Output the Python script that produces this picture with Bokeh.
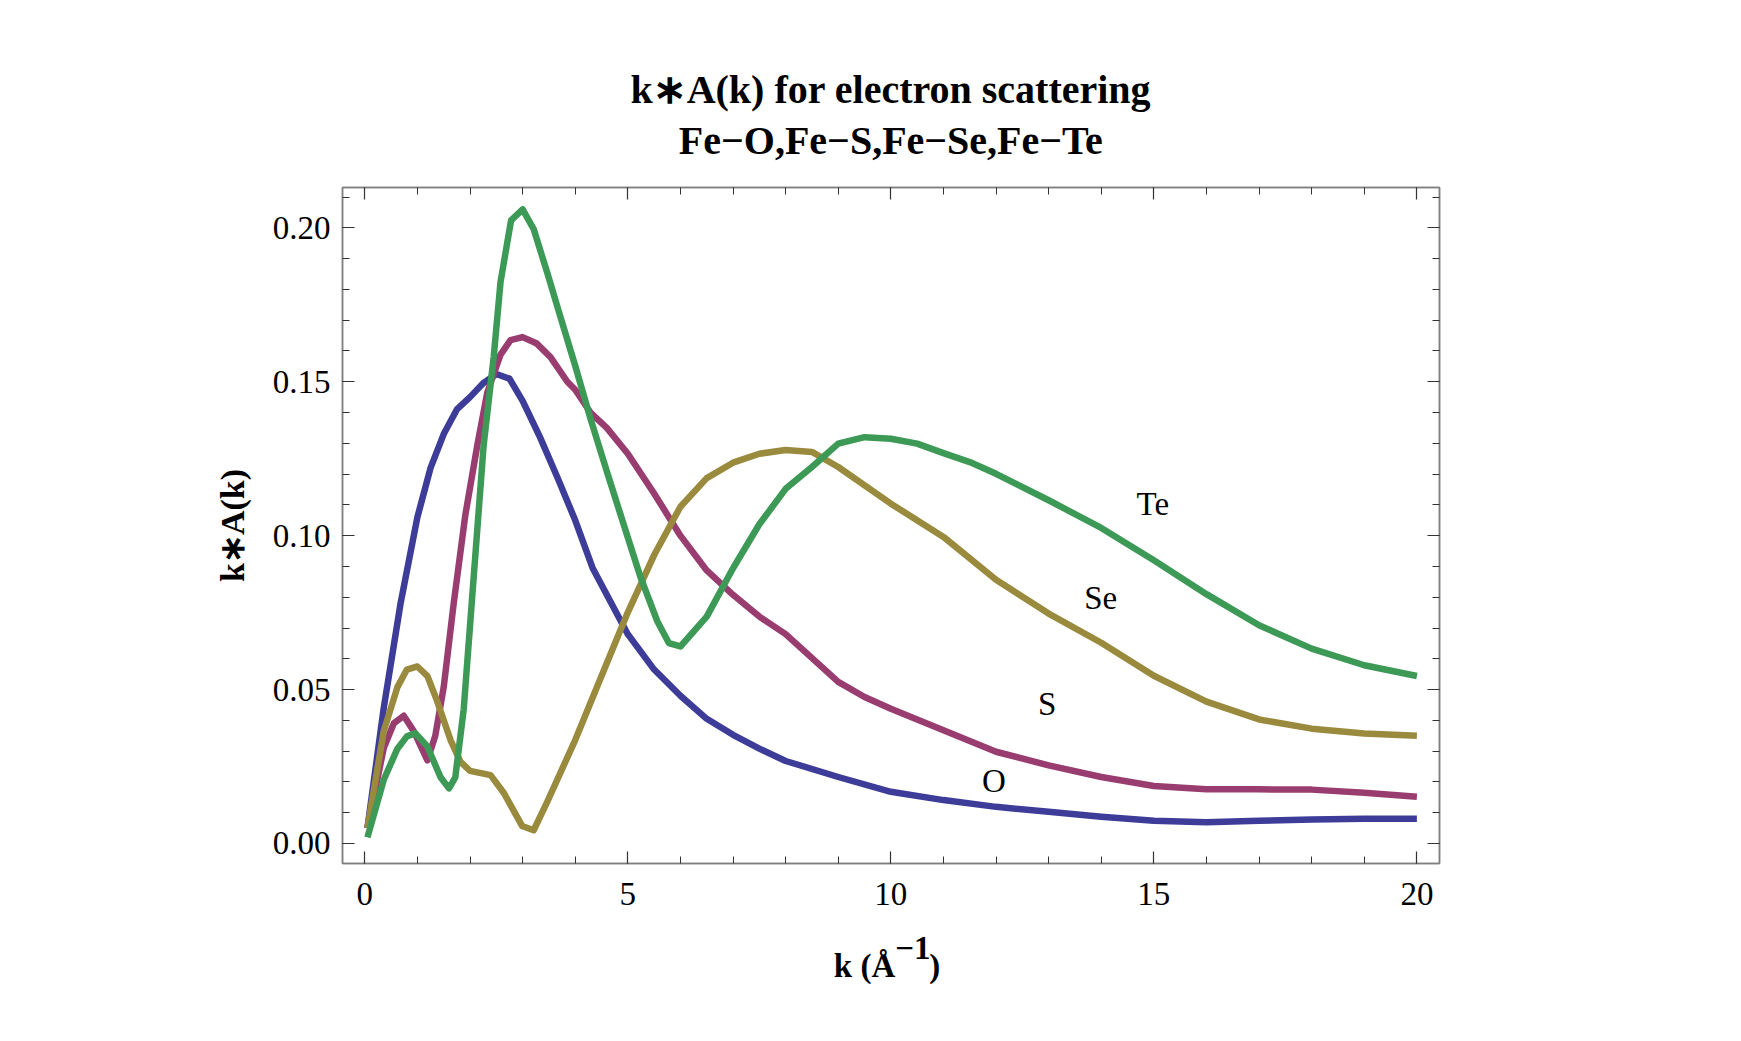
import math
from bokeh.plotting import figure
from bokeh.layouts import column
from bokeh.models import (Range1d, LinearAxis, SingleIntervalTicker, Label, Title,
                          PrintfTickFormatter, CustomJSTickFormatter)
from bokeh.core.properties import value
from bokeh.embed import file_html
from bokeh.resources import INLINE

# ---------------- data ----------------
k_O = [0.05, 0.36, 0.68, 1.0, 1.25, 1.5, 1.75, 2.0, 2.25, 2.5, 2.75, 3.0, 3.33,
       3.66, 4.0, 4.33, 5.0, 5.5, 6.0, 6.5, 7.0, 7.5, 8.0, 9.0, 10.0, 11.0,
       12.0, 13.0, 14.0, 15.0, 16.0, 17.0, 18.0, 19.0, 20.0]
A_O = [0.005, 0.044, 0.078, 0.106, 0.122, 0.133, 0.141, 0.145, 0.1495, 0.1525,
       0.151, 0.1438, 0.132, 0.119, 0.105, 0.0895, 0.068, 0.0565, 0.048, 0.0405,
       0.0353, 0.0308, 0.0268, 0.0216, 0.0168, 0.0141, 0.0119, 0.0103, 0.0087,
       0.0074, 0.0069, 0.0074, 0.0078, 0.008, 0.008]

k_S = [0.05, 0.36, 0.55, 0.74, 0.93, 1.19, 1.34, 1.5, 1.69, 1.91, 2.14, 2.33,
       2.58, 2.77, 3.0, 3.27, 3.53, 3.85, 4.0, 4.29, 4.6, 5.0, 5.5, 6.0, 6.5,
       7.0, 7.5, 8.0, 9.0, 9.5, 10.0, 11.0, 12.0, 13.0, 14.0, 15.0, 16.0, 17.0,
       18.0, 19.0, 20.0]
A_S = [0.005, 0.031, 0.039, 0.0415, 0.0365, 0.027, 0.035, 0.0508, 0.078, 0.1066,
       0.1295, 0.1466, 0.1588, 0.1635, 0.1645, 0.1624, 0.158, 0.150, 0.1474,
       0.140, 0.135, 0.1266, 0.1137, 0.100, 0.0887, 0.0808, 0.0737, 0.068,
       0.0525, 0.0476, 0.0438, 0.0368, 0.0298, 0.0254, 0.0216, 0.0187, 0.0176,
       0.0176, 0.0175, 0.0165, 0.0152]

k_Se = [0.05, 0.36, 0.62, 0.8, 1.0, 1.19, 1.37, 1.63, 1.82, 2.0, 2.39, 2.64,
        2.99, 3.21, 3.47, 4.0, 4.48, 5.0, 5.5, 6.0, 6.5, 7.0, 7.5, 8.0, 8.5,
        9.0, 10.0, 11.0, 12.0, 13.0, 14.0, 15.0, 16.0, 17.0, 18.0, 19.0, 20.0]
A_Se = [0.005, 0.0365, 0.0508, 0.0565, 0.0575, 0.0544, 0.0465, 0.0336, 0.0265,
        0.0236, 0.0222, 0.0165, 0.0057, 0.0043, 0.0136, 0.0336, 0.0536, 0.0751,
        0.0937, 0.1094, 0.1187, 0.1237, 0.1266, 0.1278, 0.1272, 0.1223, 0.1104,
        0.0996, 0.0857, 0.0747, 0.0652, 0.0545, 0.0461, 0.0403, 0.0373, 0.0357,
        0.035]

k_Te = [0.05, 0.36, 0.62, 0.8, 0.96, 1.19, 1.44, 1.6, 1.72, 1.88, 2.07, 2.26,
        2.45, 2.58, 2.78, 3.0, 3.21, 3.47, 3.72, 4.0, 4.29, 4.6, 5.0, 5.24,
        5.56, 5.78, 6.0, 6.5, 7.0, 7.5, 8.0, 8.5, 9.0, 9.5, 10.0, 10.5, 11.0,
        11.5, 12.0, 13.0, 14.0, 15.0, 16.0, 17.0, 18.0, 19.0, 20.0]
A_Te = [0.002, 0.0207, 0.0308, 0.0348, 0.0358, 0.0315, 0.0215, 0.0179, 0.0215,
        0.0436, 0.0866, 0.1295, 0.158, 0.1824, 0.2024, 0.206, 0.1996, 0.1853,
        0.171, 0.1552, 0.138, 0.1209, 0.0994, 0.0866, 0.0722, 0.0651, 0.064,
        0.0737, 0.0894, 0.1037, 0.1152, 0.1223, 0.1299, 0.132, 0.1315, 0.1299,
        0.1268, 0.1239, 0.1201, 0.1115, 0.1025, 0.092, 0.081, 0.0709, 0.0633,
        0.0579, 0.0544]

series_names = ["O", "S", "Se", "Te"]
label_pos_k = [11.96, 12.97, 13.99, 14.98]
label_pos_A = [0.0204, 0.0453, 0.0799, 0.1102]

title_lines = ["k\u2217A(k) for electron scattering", "Fe\u2212O,Fe\u2212S,Fe\u2212Se,Fe\u2212Te"]
y_label = "k\u2217A(k)"
x_label_parts = ["k (\u00c5", "\u22121", ")"]

colors = ["#3d3d99", "#993d71", "#998a3d", "#3d9956"]
SERIF = "Liberation Serif"

# ---------------- geometry of the page (pixels) ----------------
W = 1736
H0, H1, H2 = 173, 757, 106          # title strip, plot, x-label strip
FL, FR = 342, 1439                  # frame left / right
TOP_B, BOT_B = 14, 67               # borders of the main plot

x_rng = Range1d(-0.424, 20.43)

# ---------------- main figure ----------------
p = figure(width=W, height=H1, output_backend="svg", toolbar_location=None,
           x_range=x_rng, y_range=Range1d(-0.0065, 0.2131),
           x_axis_type=None, y_axis_type=None,
           min_border_left=FL, min_border_right=W - FR,
           min_border_top=TOP_B, min_border_bottom=BOT_B)
p.grid.visible = False
p.outline_line_color = "#7f7f7f"
p.outline_line_width = 1.5
p.background_fill_color = "white"
p.border_fill_color = "white"


def style_axis(ax, show_labels, standoff=12):
    ax.axis_line_color = "#7f7f7f"
    ax.axis_line_width = 1.5
    ax.major_tick_line_color = "#333333"
    ax.minor_tick_line_color = "#333333"
    ax.major_tick_line_width = 1.2
    ax.minor_tick_line_width = 1.0
    ax.major_tick_in = 12
    ax.major_tick_out = 0
    ax.minor_tick_in = 7
    ax.minor_tick_out = 0
    ax.major_label_text_font = SERIF
    ax.major_label_text_color = "black"
    if show_labels:
        ax.major_label_text_font_size = "33px"
        ax.major_label_standoff = standoff
    else:
        ax.formatter = CustomJSTickFormatter(code="return ''")
        ax.major_label_text_font_size = "1px"
        ax.major_label_standoff = 0


for loc, show in [("below", True), ("above", False)]:
    ax = LinearAxis(ticker=SingleIntervalTicker(interval=5, num_minor_ticks=5))
    style_axis(ax, show, standoff=19)
    p.add_layout(ax, loc)

for loc, show in [("left", True), ("right", False)]:
    ax = LinearAxis(ticker=SingleIntervalTicker(interval=0.05, num_minor_ticks=5))
    if show:
        ax.formatter = PrintfTickFormatter(format="%.2f")
    style_axis(ax, show, standoff=12)
    p.add_layout(ax, loc)

# ---------------- curves ----------------
for ks, vals, c in [(k_O, A_O, colors[0]), (k_S, A_S, colors[1]),
                    (k_Se, A_Se, colors[2]), (k_Te, A_Te, colors[3])]:
    p.line(ks, vals, line_color=c, line_width=6.5, line_join="round")

# curve labels
for name, kx, ay in zip(series_names, label_pos_k, label_pos_A):
    p.add_layout(Label(x=kx, y=ay, text=name, text_align="center",
                       text_baseline="alphabetic", text_font=SERIF,
                       text_font_size="33px", text_color="black"))

# y axis label
p.add_layout(Title(text=y_label, align="center", text_font=SERIF,
                   text_font_style="bold", text_font_size="34px",
                   text_color="black", standoff=37), "left")


def strip(height):
    f = figure(width=W, height=height, output_backend="svg", toolbar_location=None,
               x_range=x_rng, y_range=Range1d(0, height),
               x_axis_type=None, y_axis_type=None,
               min_border_left=FL, min_border_right=W - FR,
               min_border_top=0, min_border_bottom=0)
    f.grid.visible = False
    f.outline_line_color = None
    f.background_fill_color = "white"
    f.border_fill_color = "white"
    return f


# ---------------- title strip ----------------
p0 = strip(H0)
for txt, base in zip(title_lines, [89, 139.5]):
    p0.text(x=[10.0], y=[H0 - base], text=[txt], text_align="center",
            text_baseline="alphabetic", text_font=value(SERIF),
            text_font_style="bold", text_font_size="40px", text_color="black")

# ---------------- x-label strip ----------------
p2 = strip(H2)
top2 = H0 + H1
y_base = H2 - (965 - top2)
y_sup = H2 - (947 - top2)
p2.text(x=[10.084], y=[y_base], text=[x_label_parts[0]], text_align="right",
        text_baseline="alphabetic", text_font=value(SERIF), text_font_style="bold",
        text_font_size="33px", text_color="black")
p2.text(x=[10.084], y=[y_sup], text=[x_label_parts[1]], text_align="left",
        text_baseline="alphabetic", text_font=value(SERIF), text_font_style="bold",
        text_font_size="33px", text_color="black")
p2.text(x=[10.73], y=[y_base], text=[x_label_parts[2]], text_align="left",
        text_baseline="alphabetic", text_font=value(SERIF), text_font_style="bold",
        text_font_size="33px", text_color="black")

layout = column(p0, p, p2, spacing=0)
open("out.html", "w").write(file_html(layout, INLINE))
